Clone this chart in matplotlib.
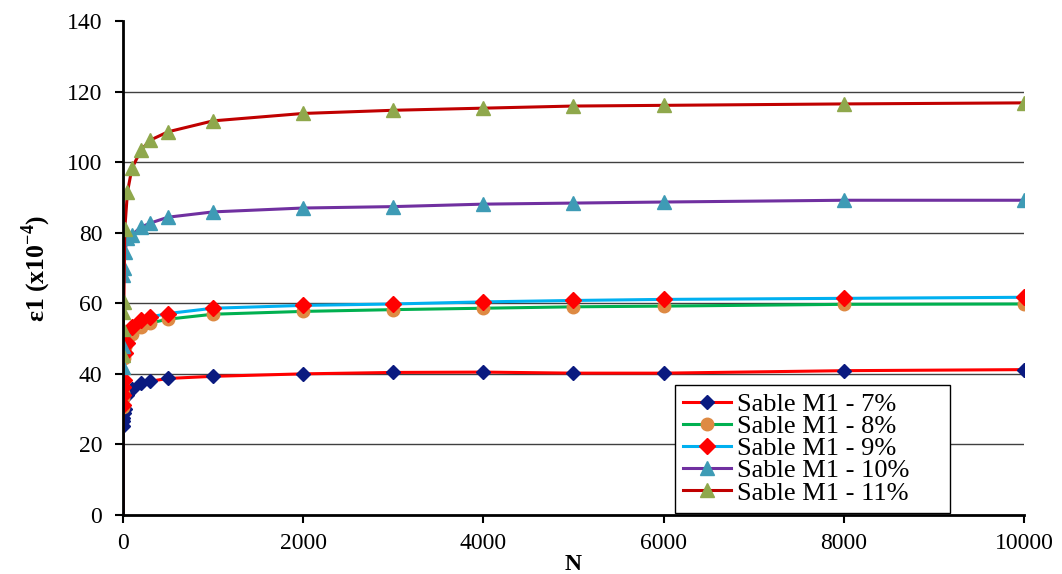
import numpy as np
import matplotlib
matplotlib.use("Agg")
import matplotlib.pyplot as plt

plt.rcParams['font.family'] = ['Liberation Serif', 'DejaVu Serif']
plt.rcParams['mathtext.fontset'] = 'custom'
plt.rcParams['mathtext.rm'] = 'Liberation Serif'
plt.rcParams['mathtext.bf'] = 'Liberation Serif:bold'

# number of cycles
N = [0, 1, 2, 5, 10, 20, 50, 100, 200, 300, 500, 1000, 2000, 3000, 4000, 5000, 6000, 8000, 10000]

eps_7 = [0, 25.3, 26.5, 27.6, 29.0, 30.0, 34.0, 35.6, 37.3, 37.9, 38.7, 39.3, 40.0, 40.4, 40.5, 40.2, 40.2, 40.9, 41.2]
eps_8 = [0, 30.6, 33.2, 34.6, 44.6, 47.6, 49.5, 51.3, 53.4, 54.4, 55.5, 56.9, 57.7, 58.2, 58.6, 59.0, 59.2, 59.7, 59.8]
eps_9 = [0, 31.3, 34.0, 36.4, 38.2, 46.0, 48.8, 53.4, 55.3, 56.1, 57.1, 58.6, 59.4, 59.8, 60.4, 60.8, 61.1, 61.4, 61.7]
eps_10 = [0, 42.0, 48.0, 68.0, 70.0, 74.5, 78.5, 79.4, 81.6, 82.7, 84.4, 85.9, 87.0, 87.4, 88.1, 88.4, 88.7, 89.2, 89.2]
eps_11 = [0, 45.3, 52.7, 57.5, 60.4, 81.0, 91.6, 98.3, 103.4, 106.2, 108.6, 111.7, 113.8, 114.7, 115.3, 115.9, 116.1, 116.5, 116.8]

labels = ['Sable M1 - 7%', 'Sable M1 - 8%', 'Sable M1 - 9%', 'Sable M1 - 10%', 'Sable M1 - 11%']
series = [eps_7, eps_8, eps_9, eps_10, eps_11]
line_cols = ['#FF0000', '#00B050', '#00B0F0', '#7030A0', '#C00000']
mark_cols = ['#0A1A80', '#DE8A43', '#FF0000', '#3E9BB5', '#8FA84C']
markers = ['D', 'o', 'D', '^', '^']
msizes = [7.5, 9, 8.5, 10, 10]

fig = plt.figure(figsize=(10.62, 5.74), dpi=100)
ax = fig.add_axes([0.1158, 0.1028, 0.8484, 0.8606])

for y, lab, lc, mc, m, ms in zip(series, labels, line_cols, mark_cols, markers, msizes):
    ax.plot(N, y, '-', color=lc, lw=2.2, marker=m, markersize=ms,
            markerfacecolor=mc, markeredgecolor=mc, markevery=list(range(1, len(N))),
            label=lab)

ax.set_xlim(0, 10000)
ax.set_ylim(0, 140)
ax.set_xticks(np.arange(0, 10001, 2000))
ax.set_yticks(np.arange(0, 141, 20))
ax.yaxis.grid(True, color='#404040', lw=1)
ax.get_ygridlines()[-1].set_visible(False)
ax.get_ygridlines()[0].set_visible(False)
ax.set_axisbelow(True)

for s in ['top', 'right']:
    ax.spines[s].set_visible(False)
for s in ['left', 'bottom']:
    ax.spines[s].set_linewidth(2)
ax.tick_params(axis='both', direction='out', length=6, width=1.5, labelsize=17)
ax.tick_params(axis='y', pad=9)
ax.tick_params(axis='x', pad=7)

ax.set_xlabel('N', fontsize=17, fontweight='bold', labelpad=0)
ax.set_ylabel(r'ε1 (x10$^{\mathbf{-4}}$)', fontsize=18.5, fontweight='bold', labelpad=10)

leg = ax.legend(loc='lower left', bbox_to_anchor=(0.613, 0.005, 0.305, 0.26), mode='expand',
                fontsize=19, frameon=True, fancybox=False, edgecolor='black', framealpha=1,
                handlelength=1.8, handletextpad=0.25, borderpad=0.3, labelspacing=-0.05,
                borderaxespad=0)
leg.get_frame().set_linewidth(1)

fig.savefig('out.png', dpi=100)
